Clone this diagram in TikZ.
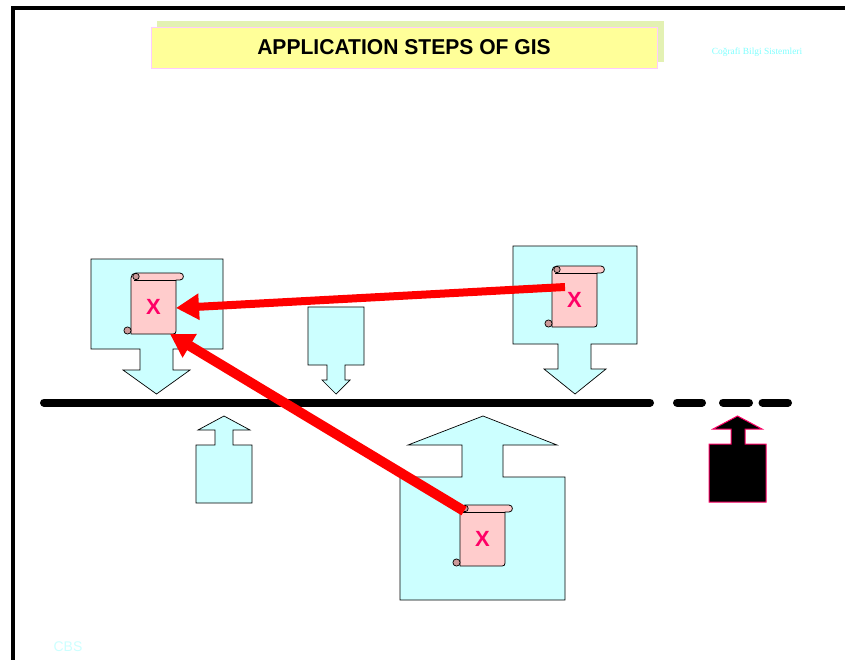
\documentclass[tikz,border=0pt]{standalone}
\usepackage{fontspec}
\setmainfont{Liberation Sans}
\newfontfamily\serifcap{Liberation Serif}
\usetikzlibrary{arrows.meta}
\definecolor{boxcyan}{HTML}{CCFFFF}
\definecolor{scrollpink}{HTML}{FFCCCC}
\definecolor{curlpink}{HTML}{CC9999}
\definecolor{xred}{HTML}{FF0066}
\definecolor{titleyellow}{HTML}{FFFF99}
\definecolor{titleshadow}{HTML}{E3F1B3}
\definecolor{titleborder}{HTML}{FFCCFF}
\definecolor{faintcyan}{HTML}{CCFFFF}
\definecolor{capcyan}{HTML}{80FFFF}
\tikzset{
  callout/.style={draw=black,line width=0.7pt,fill=boxcyan,line join=miter},
  blackcallout/.style={draw=xred,line width=1pt,fill=black,line join=miter},
  frameline/.style={line width=4pt,draw=black},
  busline/.style={line width=8pt,draw=black,line cap=round},
  redarrow/.style={draw=red,line width=8pt,-{Triangle[length=23pt,width=25pt]}},
  redarrowthick/.style={draw=red,line width=10pt,-{Triangle[length=23pt,width=26pt]}},
  scrollpart/.style={draw=black,line width=0.8pt,fill=scrollpink,line join=round},
  curlpart/.style={draw=black,line width=0.7pt,fill=curlpink},
  scrollbody/.style={inner sep=0pt,minimum width=45pt,minimum height=54pt,text=xred,font=\bfseries\fontsize{22}{22}\selectfont},
}
% #1 name, #2 left x, #3 top y
\newcommand{\scrollshape}[3]{%
  \begin{scope}[shift={(#2,#3)}]
    \path[scrollpart] (0,61) -- (0,5) .. controls (0,2) and (2,0) .. (5,0) -- (49,0)
      .. controls (53.5,0) and (53.5,7) .. (49,7) -- (45,7) -- (45,58)
      .. controls (45,60) and (44,61) .. (42,61) -- cycle;
    \path[draw=black,line width=0.8pt] (3,7) -- (45,7);
    \path[curlpart] (5,3.5) circle[radius=3.2];
    \path[curlpart] (-3.5,57.5) circle[radius=3.6];
    \node[scrollbody] (#1) at (22.5,33.5) {X};
  \end{scope}}
\begin{document}
\begin{tikzpicture}[x=1pt,y=-1pt]
\useasboundingbox (0,0) rectangle (845,659);
% frame
\coordinate (frameTL) at (13,8);
\coordinate (frameTR) at (845,8);
\coordinate (frameBL) at (13,659);
\draw[frameline,line cap=rect] (frameBL) -- (frameTL) -- (frameTR);
% title
\path[fill=titleshadow] (157,21) rectangle (664,62);
\node[draw=titleborder,line width=1pt,fill=titleyellow,minimum width=506pt,minimum height=41pt,inner sep=0pt,font=\bfseries\fontsize{21.5}{22}\selectfont,text=black] (title) at (404,47.5) {\scalebox{0.98}[1]{APPLICATION STEPS OF GIS}};
\node[text=capcyan,inner sep=0pt,font=\serifcap\fontsize{9.4}{10}\selectfont] (caption) at (757,52) {Coğrafi Bilgi Sistemleri};
\node[text=faintcyan,inner sep=0pt,font=\fontsize{14}{16}\selectfont] (cbs) at (68,647) {CBS};
% callouts
\path[callout] (91,259) -- (223,259) -- (223,349) -- (173,349) -- (173,370) -- (190,370) -- (156.5,394) -- (123,370) -- (140,370) -- (140,349) -- (91,349) -- cycle;
\path[callout] (308,307) -- (364,307) -- (364,365) -- (345,365) -- (345,380) -- (350,380) -- (336,394) -- (322,380) -- (327,380) -- (327,365) -- (308,365) -- cycle;
\path[callout] (513,246) -- (637,246) -- (637,344) -- (591,344) -- (591,369) -- (606,369) -- (575,394) -- (544,369) -- (558,369) -- (558,344) -- (513,344) -- cycle;
\path[callout] (196,503) -- (252,503) -- (252,445) -- (233,445) -- (233,430) -- (250,430) -- (224,416) -- (198,430) -- (215,430) -- (215,445) -- (196,445) -- cycle;
\path[callout] (400,600) -- (565,600) -- (565,477) -- (503,477) -- (503,445) -- (557,445) -- (483,416) -- (408,445) -- (462,445) -- (462,477) -- (400,477) -- cycle;
\path[blackcallout] (709,502) -- (766,502) -- (766,444) -- (745,444) -- (745,429) -- (762,429) -- (737.5,416) -- (713,429) -- (731,429) -- (731,444) -- (709,444) -- cycle;
% bus
\coordinate (busA) at (44,402.5);
\coordinate (busB) at (650,402.5);
\coordinate (dashA1) at (677,402.5);
\coordinate (dashA2) at (702,402.5);
\coordinate (dashB1) at (723,402.5);
\coordinate (dashB2) at (749,402.5);
\coordinate (dashC1) at (762.5,402.5);
\coordinate (dashC2) at (788,402.5);
\draw[busline] (busA) -- (busB);
\draw[busline] (dashA1) -- (dashA2);
\draw[busline] (dashB1) -- (dashB2);
\draw[busline] (dashC1) -- (dashC2);
% scrolls
\scrollshape{scrollL}{131}{273}
\scrollshape{scrollR}{552}{266}
\scrollshape{scrollB}{460}{505}
% red connectors
\coordinate (arrowAfrom) at (565,287);
\coordinate (arrowAto) at (176,308);
\coordinate (arrowBfrom) at (464,511);
\coordinate (arrowBto) at (170,334);
\draw[redarrow] (arrowAfrom) -- (arrowAto);
\draw[redarrowthick] (arrowBfrom) -- (arrowBto);
\end{tikzpicture}
\end{document}
